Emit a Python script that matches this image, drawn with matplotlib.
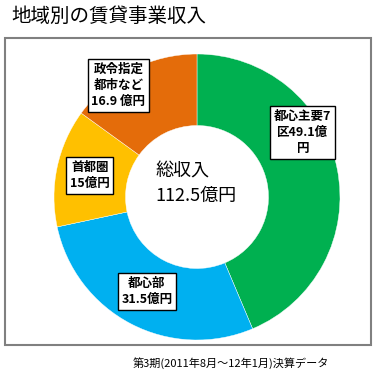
import matplotlib.pyplot as plt
from matplotlib.patches import Rectangle

plt.rcParams['font.family'] = ['Noto Sans CJK JP', 'DejaVu Sans']

regions = ['都心主要7区', '都心部', '首都圏', '政令指定都市など']
income = [49.1, 31.5, 15.0, 16.9]
labels = ['都心主要7\n区49.1億\n円', '都心部\n31.5億円', '首都圏\n15億円', '政令指定\n都市など\n16.9 億円']
colors = ['#00B050', '#00B0F0', '#FFC000', '#E46C0A']
total = 112.5
label_pos = [(0.74, 0.45), (-0.35, -0.66), (-0.75, 0.15), (-0.55, 0.78)]

fig = plt.figure(figsize=(3.76, 3.76), dpi=100)

# outer frame
fig.patches.append(Rectangle((5 / 376, 1 - 345 / 376), 366 / 376, 307 / 376,
                             transform=fig.transFigure, fill=False,
                             edgecolor='#808080', linewidth=1.5))

fig.text(11 / 376, 1 - 16 / 376, '地域別の賃貸事業収入', fontsize=14,
         va='center', ha='left')
fig.text(133 / 376, 1 - 363 / 376, '第3期(2011年8月～12年1月)決算データ',
         fontsize=8, va='center', ha='left')

ax = fig.add_axes([(197 - 143) / 376, (376 - 197 - 143) / 376, 286 / 376, 286 / 376])
ax.pie(income, colors=colors, startangle=90, counterclock=False,
       wedgeprops=dict(width=0.5, edgecolor='white', linewidth=0.3))
ax.set_xlim(-1, 1)
ax.set_ylim(-1, 1)
ax.set_aspect('equal')
ax.axis('off')

for txt, (x, y) in zip(labels, label_pos):
    ax.text(x, y, txt, ha='center', va='center', fontsize=9, fontweight='bold',
            linespacing=1.3,
            bbox=dict(boxstyle='square,pad=0.3', facecolor='white', edgecolor='black', linewidth=1))

ax.text(-0.29, 0.18, '総収入', fontsize=13, ha='left', va='center')
ax.text(-0.29, 0.01, f'{total}億円', fontsize=13, ha='left', va='center')

fig.savefig('out.png', dpi=100)
